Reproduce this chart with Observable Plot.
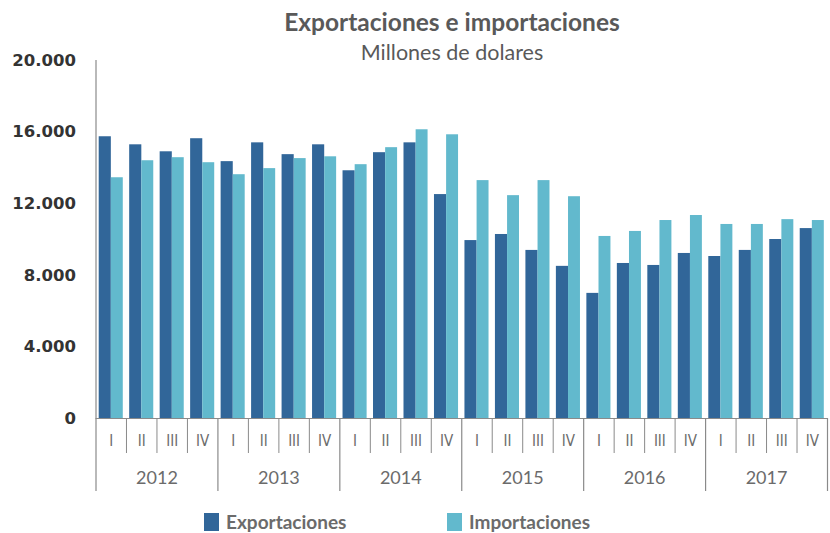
<!DOCTYPE html>
<html>
<head>
<meta charset="utf-8">
<script src="https://cdn.jsdelivr.net/npm/d3@7"></script>
<script src="https://cdn.jsdelivr.net/npm/@observablehq/plot@0.6"></script>
<style>
  html, body { margin: 0; padding: 0; background: #fff; }
  #wrap { position: relative; width: 830px; height: 533px; overflow: hidden; font-family: Lato, "DejaVu Sans", sans-serif; }
  #title { position: absolute; top: 7px; left: 452px; transform: translateX(-50%); white-space: nowrap;
           font: bold 24.5px Lato, sans-serif; color: #595959; }
  #subtitle { position: absolute; top: 39px; left: 452px; transform: translateX(-50%); white-space: nowrap;
              font: 21.5px Lato, sans-serif; color: #595959; }
  #chart { position: absolute; top: 0; left: 0; }
  #legend { position: absolute; top: 511px; left: 0; width: 830px; height: 21px; }
  .li { position: absolute; top: 0; height: 21px; display: flex; align-items: center; font: bold 19px/20px Lato, sans-serif; color: #6b6b6b; }
  .sw { width: 15px; height: 18px; margin-right: 7px; }
</style>
</head>
<body>
<div id="wrap">
  <div id="chart"></div>
  <div id="title">Exportaciones e importaciones</div>
  <div id="subtitle">Millones de dolares</div>
  <div id="legend"></div>
</div>
<script>
const years = ["2012", "2013", "2014", "2015", "2016", "2017"];
const quarters = ["I", "II", "III", "IV"];
const seriesNames = ["Exportaciones", "Importaciones"];
const seriesColors = ["#316699", "#62b9cd"];
const exportaciones = [15740, 15290, 14900, 15630, 14350, 15400, 14740, 15290, 13840, 14850, 15400, 12510,
                       9940, 10280, 9390, 8500, 6990, 8660, 8550, 9220, 9050, 9390, 10000, 10610];
const importaciones = [13450, 14400, 14570, 14290, 13620, 13960, 14520, 14620, 14180, 15130, 16130, 15850,
                       13290, 12450, 13290, 12390, 10170, 10450, 11060, 11340, 10840, 10840, 11110, 11060];
const yTicks = [0, 4000, 8000, 12000, 16000, 20000];

const rows = [];
years.forEach((yr, i) => quarters.forEach((q, j) => {
  const k = i * 4 + j;
  rows.push({key: yr + "-" + q, year: yr, q, exp: exportaciones[k], imp: importaciones[k]});
}));
const keys = rows.map(d => d.key);

const W = 830, H = 500, mL = 95.5, mR = 3, mT = 60, mB = 82;
const bw = (W - mL - mR) / keys.length;
const outer = 3.2, half = bw / 2;
const fmt = d => d === 0 ? "0" : d3.format(",")(d).replace(/,/g, ".");

const plot = Plot.plot({
  width: W, height: H,
  marginLeft: mL, marginRight: mR, marginTop: mT, marginBottom: mB,
  style: {background: "white", overflow: "visible", fontFamily: "Lato, sans-serif"},
  x: {type: "band", domain: keys, padding: 0, round: false, axis: null},
  y: {domain: [0, 20000], axis: null},
  marks: [
    Plot.barY(rows, {x: "key", y: "exp", fill: seriesColors[0], insetLeft: outer, insetRight: half - 0.1}),
    Plot.barY(rows, {x: "key", y: "imp", fill: seriesColors[1], insetLeft: half + 0.1, insetRight: outer}),
    Plot.ruleY([0], {stroke: "#8a8a8a", strokeWidth: 1.2}),
    // y axis line
    Plot.ruleX([keys[0]], {x: d => d, dx: -half, stroke: "#8a8a8a", strokeWidth: 1.2, insetBottom: -73}),
    // quarter separators
    Plot.ruleX(rows.filter(d => d.q !== "I"), {x: "key", y1: d => 0, y2: d => 0, dx: -half, stroke: "#8a8a8a", insetBottom: -35}),
    // year separators
    Plot.ruleX(rows.filter(d => d.q === "I" && d.year !== years[0]), {x: "key", y1: d => 0, y2: d => 0, dx: -half, stroke: "#8a8a8a", strokeWidth: 1.2, insetBottom: -73}),
    Plot.ruleX([keys[keys.length - 1]], {x: d => d, y1: d => 0, y2: d => 0, dx: half, stroke: "#8a8a8a", strokeWidth: 1.2, insetBottom: -73}),
    // quarter labels
    Plot.text(rows, {x: "key", y: d => 0, text: "q", dy: 23, fill: "#6b6b6b", fontSize: 15, fontFamily: "'DejaVu Sans Condensed', Lato, sans-serif"}),
    // year labels
    Plot.text(rows.filter(d => d.q === "II"), {x: "key", y: d => 0, text: "year", dx: half, dy: 60, fill: "#6b6b6b", fontSize: 18, fontFamily: "Lato, sans-serif"}),
    // y tick labels
    Plot.text(yTicks, {y: d => d, text: fmt, frameAnchor: "left", dx: -20, textAnchor: "end", fill: "#333", fontSize: 16.5, fontWeight: "bold", fontFamily: "'DejaVu Sans', sans-serif"})
  ]
});
document.getElementById("chart").appendChild(plot);

const legend = document.getElementById("legend");
const lx = [204, 447];
seriesNames.forEach((n, i) => {
  const el = document.createElement("div");
  el.className = "li";
  el.style.left = lx[i] + "px";
  el.innerHTML = `<span class="sw" style="background:${seriesColors[i]}"></span><span>${n}</span>`;
  legend.appendChild(el);
});
</script>
</body>
</html>
